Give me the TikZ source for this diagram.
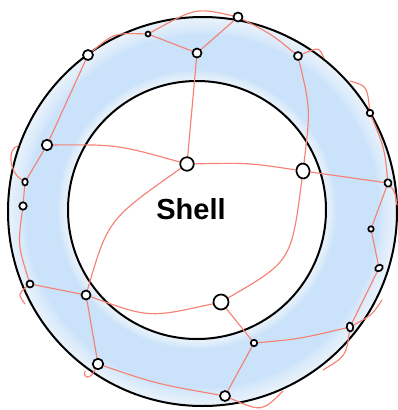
\documentclass[tikz,border=0pt]{standalone}
\usepackage{fontspec}
\setmainfont{Liberation Sans}
\usetikzlibrary{shapes.geometric}
\definecolor{edgered}{RGB}{246,130,118}
\definecolor{ringblue}{RGB}{202,226,250}
\pgfdeclarelayer{bg}
\pgfdeclarelayer{lines}
\pgfsetlayers{bg,lines,main}
\tikzset{
  vtx/.style={circle, draw=black, fill=white, line width=1.7pt, inner sep=0pt},
  vel/.style={ellipse, draw=black, fill=white, line width=1.7pt, inner sep=0pt},
  link/.style={draw=edgered, line width=1.15pt, line cap=round},
  ringline/.style={draw=black, line width=2pt},
  label/.style={font=\bfseries\fontsize{29}{29}\selectfont}
}
\begin{document}
\begin{tikzpicture}[x=1pt,y=-1pt]
\useasboundingbox (0,0) rectangle (398,410);
\coordinate (oc) at (202.5,211.5);
\coordinate (ic) at (197,210);
\begin{pgfonlayer}{bg}
\fill[white] (0,0) rectangle (398,410);
\fill[ringblue, even odd rule] (oc) circle (194.5pt) (ic) circle (129pt);
\foreach \w in {4,10,16,22,28,34}
  \draw[white, opacity=0.15, line width=\w pt] (oc) circle (194.5pt);
\foreach \w in {4,8,12,16,20}
  \draw[white, opacity=0.16, line width=\w pt] (ic) circle (129pt);
\draw[ringline] (oc) circle (194.5pt);
\draw[ringline] (ic) circle (129pt);
\end{pgfonlayer}

\node[vtx, minimum size=10pt] (n1) at (88,55) {};
\node[vtx, minimum size=5pt] (n2) at (148,34) {};
\node[vtx, minimum size=9pt] (n3) at (197,53) {};
\node[vtx, minimum size=9pt] (n8) at (238,17) {};
\node[vtx, minimum size=8pt] (n9) at (298,56) {};
\node[vtx, minimum size=6.5pt] (n10) at (370,113) {};
\node[vtx, minimum size=10.5pt] (n4) at (47,145) {};
\node[vtx, minimum size=13.5pt] (n5) at (187,164) {};
\node[vel, minimum width=5.5pt, minimum height=7pt] (n6) at (25,182) {};
\node[vtx, minimum size=7.5pt] (n7) at (23,206) {};
\node[vel, minimum width=13pt, minimum height=15pt, rotate=8] (n11) at (303,171) {};
\node[vel, minimum width=7pt, minimum height=7.5pt, rotate=20] (n12) at (388,183) {};
\node[vtx, minimum size=5.5pt] (n17) at (371,229) {};
\node[vel, minimum width=8pt, minimum height=6pt, rotate=30] (n18) at (379,268) {};
\node[vel, minimum width=6.5pt, minimum height=9pt, rotate=8] (n19) at (350,327) {};
\node[vtx, minimum size=7pt] (n13) at (30,284) {};
\node[vtx, minimum size=9pt] (n14) at (86,295) {};
\node[vtx, minimum size=10.5pt] (n15) at (98,364) {};
\node[vtx, minimum size=15pt] (n16) at (221,302) {};
\node[vtx, minimum size=6.5pt] (n20) at (254,343) {};
\node[vtx, minimum size=10pt] (n21) at (225,396) {};

\coordinate (f1) at (18,146);
\coordinate (f2) at (324,58);
\coordinate (f3) at (350,81);
\coordinate (f4) at (397,205);
\coordinate (f5) at (25,304);
\coordinate (f6) at (85,371);
\coordinate (f7) at (283,391);
\coordinate (f8) at (323,370);
\coordinate (f9) at (382,300);

\begin{pgfonlayer}{lines}
\draw[link] (n1) .. controls (114,33) .. (n2);
\draw[link] (n2) .. controls (196,7.5) .. (n8);
\draw[link] (n2) -- (n3);
\draw[link] (n3) -- (n8);
\draw[link] (n3) .. controls (192,108) .. (n5);
\draw[link] (n1) -- (n4);
\draw[link] (n4) .. controls (117,144.5) .. (n5);
\draw[link] (n4) -- (n6);
\draw[link] (n6) -- (n7);
\draw[link] (n7) .. controls (17.8,245) .. (n13);
\draw[link] (n13) -- (n14);
\draw[link] (n14) -- (n15);
\draw[link] (n5) .. controls (108,219.5) .. (n14);
\draw[link] (n14) .. controls (149,318) .. (n16);
\draw[link] (n15) .. controls (157,384) .. (n21);
\draw[link] (n16) -- (n20);
\draw[link] (n20) -- (n21);
\draw[link] (n20) .. controls (299,339) .. (n19);
\draw[link] (n19) -- (n18);
\draw[link] (n18) -- (n17);
\draw[link] (n17) -- (n12);
\draw[link] (n10) .. controls (384.4,148) .. (n12);
\draw[link] (n11) -- (n12);
\draw[link] (n5) .. controls (249,162.8) .. (n11);
\draw[link] (n11) .. controls (310.5,108.8) .. (n9);
\draw[link] (n11) .. controls (291.4,261.2) .. (n16);
\draw[link] (n8) .. controls (272,34.5) .. (n9);
\draw[link] (n6) .. controls (9,172) and (7,148) .. (f1);
\draw[link] (n9) .. controls (319,47) .. (f2);
\draw[link] (f3) .. controls (367,86) .. (n10);
\draw[link] (n12) .. controls (395,192) .. (f4);
\draw[link] (n13) .. controls (18,294) .. (f5);
\draw[link] (n15) .. controls (90,380) and (83,379) .. (f6);
\draw[link] (n21) .. controls (262,412) .. (f7);
\draw[link] (n19) .. controls (346,356) .. (f8);
\draw[link] (n19) .. controls (372,315) .. (f9);
\end{pgfonlayer}

\node[label] (title) at (191,209) {Shell};
\end{tikzpicture}
\end{document}
